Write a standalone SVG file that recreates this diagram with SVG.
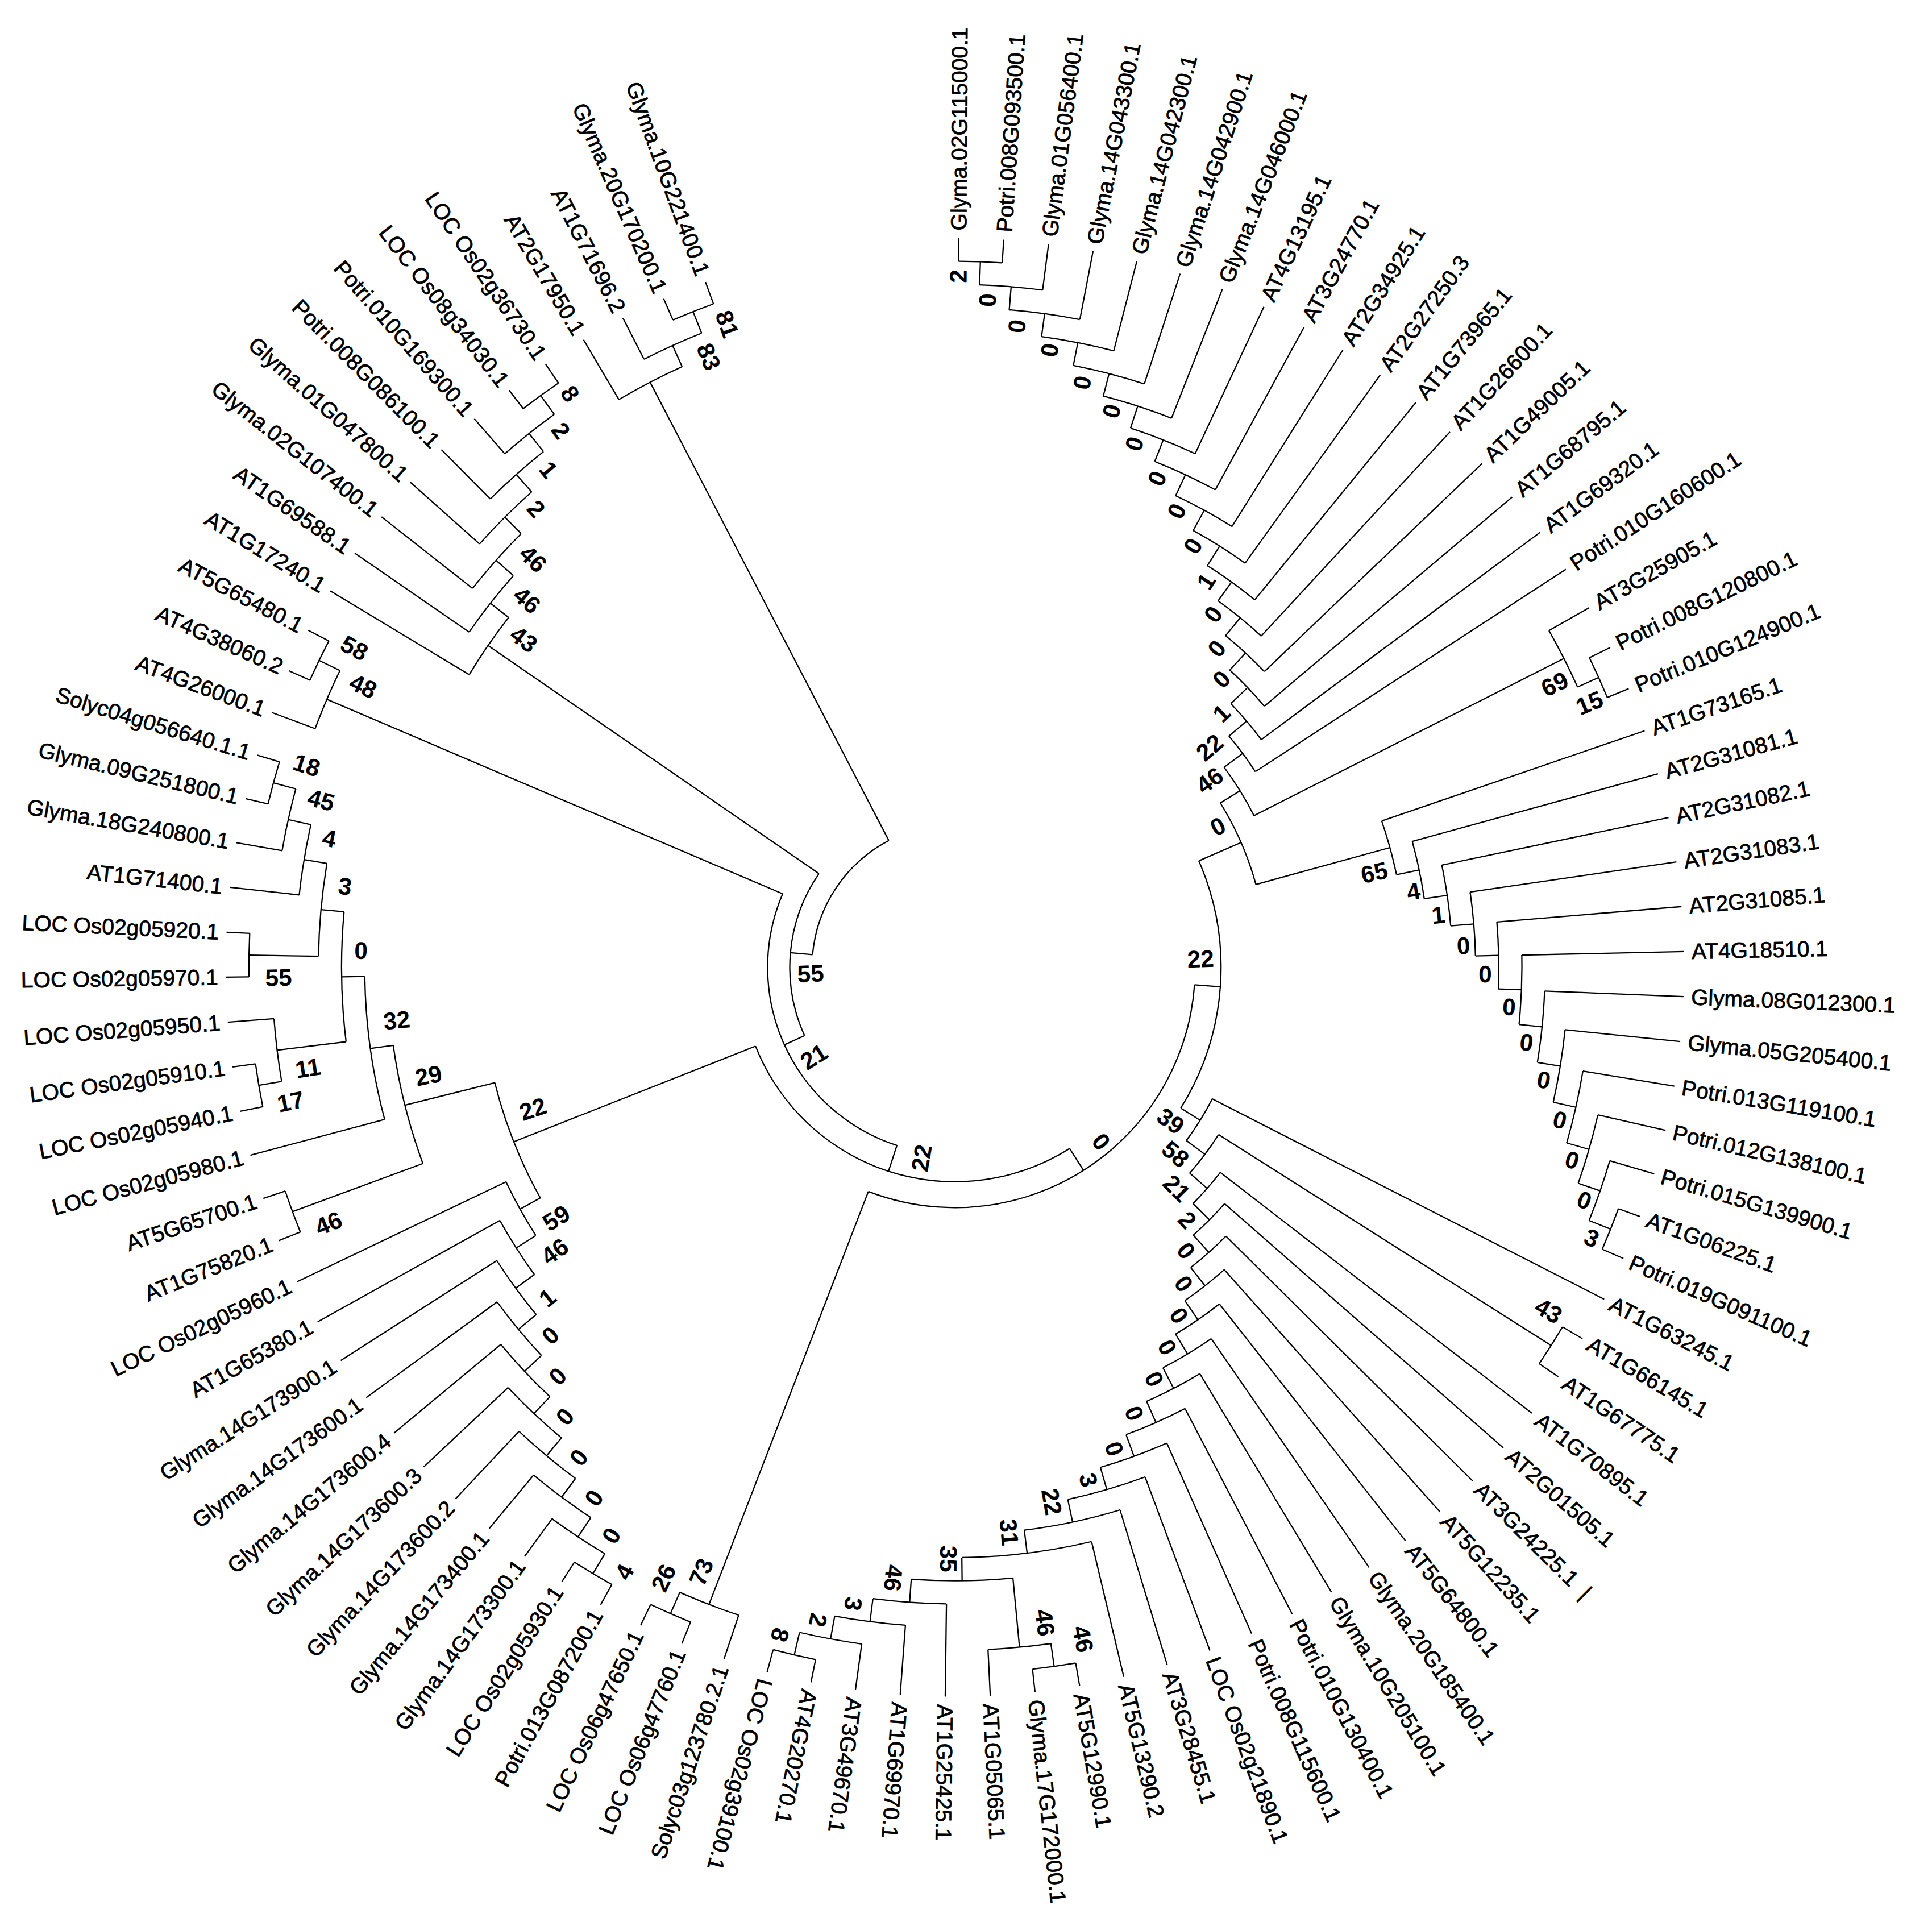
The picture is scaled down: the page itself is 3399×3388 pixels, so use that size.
<svg xmlns="http://www.w3.org/2000/svg" width="3399" height="3388" viewBox="0 0 3399 3388">
<style>
.br line,.br circle{stroke:#000;stroke-width:1.05;fill:none}
.lv text{font-family:"Liberation Sans",Arial,sans-serif;font-size:18px;fill:#000;stroke:#000;stroke-width:0.35;dominant-baseline:central}
.lv .L{text-anchor:end}
.bs text{font-family:"Liberation Sans",Arial,sans-serif;font-size:19.5px;font-weight:bold;fill:#000;text-anchor:middle;dominant-baseline:central}
</style>
<rect width="3399" height="3388" fill="#fff"/>
<g transform="scale(2.1677)">
<g id="connectors" class="br" transform="translate(775,785)">
<circle r="573" stroke-dasharray="35.4 4000" transform="rotate(-89.7)"/>
<circle r="554.2" stroke-dasharray="51.36 4000" transform="rotate(-87.93)"/>
<circle r="535.4" stroke-dasharray="57.89 4000" transform="rotate(-85.275)"/>
<circle r="516.6" stroke-dasharray="59.78 4000" transform="rotate(-82.18)"/>
<circle r="497.8" stroke-dasharray="59.56 4000" transform="rotate(-78.865)"/>
<circle r="479" stroke-dasharray="58.27 4000" transform="rotate(-75.44)"/>
<circle r="460.2" stroke-dasharray="56.42 4000" transform="rotate(-71.955)"/>
<circle r="441.4" stroke-dasharray="54.31 4000" transform="rotate(-68.44)"/>
<circle r="422.6" stroke-dasharray="52.11 4000" transform="rotate(-64.915)"/>
<circle r="403.8" stroke-dasharray="49.76 4000" transform="rotate(-61.38)"/>
<circle r="385" stroke-dasharray="47.51 4000" transform="rotate(-57.85)"/>
<circle r="366.2" stroke-dasharray="45.22 4000" transform="rotate(-54.315)"/>
<circle r="347.4" stroke-dasharray="42.93 4000" transform="rotate(-50.78)"/>
<circle r="328.6" stroke-dasharray="40.61 4000" transform="rotate(-47.24)"/>
<circle r="309.8" stroke-dasharray="38.28 4000" transform="rotate(-43.7)"/>
<circle r="291" stroke-dasharray="35.96 4000" transform="rotate(-40.16)"/>
<circle r="573" stroke-dasharray="35.4 4000" transform="rotate(-26.01)"/>
<circle r="554.2" stroke-dasharray="51.36 4000" transform="rotate(-29.55)"/>
<circle r="272.2" stroke-dasharray="46.2 4000" transform="rotate(-36.62)"/>
<circle r="573" stroke-dasharray="35.4 4000" transform="rotate(19.99)"/>
<circle r="554.2" stroke-dasharray="51.36 4000" transform="rotate(16.45)"/>
<circle r="535.4" stroke-dasharray="57.8 4000" transform="rotate(12.92)"/>
<circle r="516.6" stroke-dasharray="59.78 4000" transform="rotate(9.38)"/>
<circle r="497.8" stroke-dasharray="59.56 4000" transform="rotate(5.84)"/>
<circle r="479" stroke-dasharray="58.27 4000" transform="rotate(2.3)"/>
<circle r="460.2" stroke-dasharray="56.42 4000" transform="rotate(-1.24)"/>
<circle r="441.4" stroke-dasharray="54.31 4000" transform="rotate(-4.78)"/>
<circle r="422.6" stroke-dasharray="52.04 4000" transform="rotate(-8.31)"/>
<circle r="403.8" stroke-dasharray="49.83 4000" transform="rotate(-11.85)"/>
<circle r="385" stroke-dasharray="47.54 4000" transform="rotate(-15.39)"/>
<circle r="366.2" stroke-dasharray="45.25 4000" transform="rotate(-18.93)"/>
<circle r="253.4" stroke-dasharray="72.4 4000" transform="rotate(-31.76)"/>
<circle r="216" stroke-dasharray="209.27 4000" transform="rotate(-23.575)"/>
<circle r="573" stroke-dasharray="35.4 4000" transform="rotate(30.61)"/>
<circle r="234.6" stroke-dasharray="39.84 4000" transform="rotate(27.07)"/>
<circle r="253.4" stroke-dasharray="39.12 4000" transform="rotate(32.38)"/>
<circle r="272.2" stroke-dasharray="33.59 4000" transform="rotate(37.69)"/>
<circle r="291" stroke-dasharray="35.98 4000" transform="rotate(41.22)"/>
<circle r="309.8" stroke-dasharray="38.34 4000" transform="rotate(44.76)"/>
<circle r="328.6" stroke-dasharray="40.72 4000" transform="rotate(48.3)"/>
<circle r="347.4" stroke-dasharray="43.17 4000" transform="rotate(51.84)"/>
<circle r="366.2" stroke-dasharray="45.76 4000" transform="rotate(55.38)"/>
<circle r="385" stroke-dasharray="48.68 4000" transform="rotate(58.92)"/>
<circle r="403.8" stroke-dasharray="52.36 4000" transform="rotate(62.45)"/>
<circle r="422.6" stroke-dasharray="57.42 4000" transform="rotate(65.99)"/>
<circle r="441.4" stroke-dasharray="65.41 4000" transform="rotate(69.53)"/>
<circle r="460.2" stroke-dasharray="79.52 4000" transform="rotate(73.07)"/>
<circle r="479" stroke-dasharray="106.3 4000" transform="rotate(76.61)"/>
<circle r="497.8" stroke-dasharray="82.63 4000" transform="rotate(84.57)"/>
<circle r="554.2" stroke-dasharray="51.27 4000" transform="rotate(81.92)"/>
<circle r="573" stroke-dasharray="35.4 4000" transform="rotate(80.15)"/>
<circle r="516.6" stroke-dasharray="59.85 4000" transform="rotate(90.76)"/>
<circle r="535.4" stroke-dasharray="57.91 4000" transform="rotate(94.3)"/>
<circle r="554.2" stroke-dasharray="51.36 4000" transform="rotate(97.84)"/>
<circle r="573" stroke-dasharray="35.4 4000" transform="rotate(101.38)"/>
<circle r="573" stroke-dasharray="35.4 4000" transform="rotate(111.99)"/>
<circle r="554.2" stroke-dasharray="51.27 4000" transform="rotate(108.46)"/>
<circle r="195" stroke-dasharray="363.93 4000" transform="rotate(4.18)"/>
<circle r="573" stroke-dasharray="35.4 4000" transform="rotate(119.07)"/>
<circle r="554.2" stroke-dasharray="51.36 4000" transform="rotate(120.84)"/>
<circle r="535.4" stroke-dasharray="57.89 4000" transform="rotate(123.495)"/>
<circle r="516.6" stroke-dasharray="59.78 4000" transform="rotate(126.59)"/>
<circle r="497.8" stroke-dasharray="59.56 4000" transform="rotate(129.905)"/>
<circle r="479" stroke-dasharray="58.27 4000" transform="rotate(133.33)"/>
<circle r="460.2" stroke-dasharray="56.42 4000" transform="rotate(136.815)"/>
<circle r="441.4" stroke-dasharray="54.31 4000" transform="rotate(140.33)"/>
<circle r="422.6" stroke-dasharray="52.11 4000" transform="rotate(143.855)"/>
<circle r="403.8" stroke-dasharray="49.83 4000" transform="rotate(147.39)"/>
<circle r="573" stroke-dasharray="35.4 4000" transform="rotate(157.99)"/>
<circle r="573" stroke-dasharray="35.4 4000" transform="rotate(168.61)"/>
<circle r="554.2" stroke-dasharray="51.36 4000" transform="rotate(170.38)"/>
<circle r="573" stroke-dasharray="35.3 4000" transform="rotate(179.23)"/>
<circle r="573" stroke-dasharray="35.4 4000" transform="rotate(193.38)"/>
<circle r="554.2" stroke-dasharray="51.36 4000" transform="rotate(189.84)"/>
<circle r="535.4" stroke-dasharray="57.89 4000" transform="rotate(186.3)"/>
<circle r="516.6" stroke-dasharray="75.76 4000" transform="rotate(180.995)"/>
<circle r="497.8" stroke-dasharray="105.66 4000" transform="rotate(173.035)"/>
<circle r="479" stroke-dasharray="117.43 4000" transform="rotate(165.07)"/>
<circle r="460.2" stroke-dasharray="99.06 4000" transform="rotate(159.76)"/>
<circle r="385" stroke-dasharray="100.83 4000" transform="rotate(150.925)"/>
<circle r="174" stroke-dasharray="306.08 4000" transform="rotate(57.645)"/>
<circle r="573" stroke-dasharray="35.3 4000" transform="rotate(204)"/>
<circle r="554.2" stroke-dasharray="51.31 4000" transform="rotate(200.46)"/>
<circle r="152" stroke-dasharray="252.21 4000" transform="rotate(108.04)"/>
<circle r="573" stroke-dasharray="35.3 4000" transform="rotate(232.31)"/>
<circle r="554.2" stroke-dasharray="51.31 4000" transform="rotate(228.77)"/>
<circle r="535.4" stroke-dasharray="57.84 4000" transform="rotate(225.23)"/>
<circle r="516.6" stroke-dasharray="59.82 4000" transform="rotate(221.69)"/>
<circle r="497.8" stroke-dasharray="59.51 4000" transform="rotate(218.15)"/>
<circle r="479" stroke-dasharray="58.23 4000" transform="rotate(214.61)"/>
<circle r="460.2" stroke-dasharray="56.38 4000" transform="rotate(211.07)"/>
<circle r="134" stroke-dasharray="138 4000" transform="rotate(155.575)"/>
<circle r="573" stroke-dasharray="35.4 4000" transform="rotate(246.46)"/>
<circle r="554.2" stroke-dasharray="51.36 4000" transform="rotate(242.92)"/>
<circle r="535.4" stroke-dasharray="57.89 4000" transform="rotate(239.38)"/>
<circle r="116" stroke-dasharray="116.21 4000" transform="rotate(185.08)"/>
<line x1="573" x2="591.8" transform="rotate(-89.7)"/>
<line x1="573" x2="591.8" transform="rotate(-86.16)"/>
<line x1="554.2" x2="591.8" transform="rotate(-82.62)"/>
<line x1="535.4" x2="591.8" transform="rotate(-79.08)"/>
<line x1="516.6" x2="591.8" transform="rotate(-75.55)"/>
<line x1="497.8" x2="591.8" transform="rotate(-72.01)"/>
<line x1="479" x2="591.8" transform="rotate(-68.47)"/>
<line x1="460.2" x2="591.8" transform="rotate(-64.93)"/>
<line x1="441.4" x2="591.8" transform="rotate(-61.39)"/>
<line x1="422.6" x2="591.8" transform="rotate(-57.85)"/>
<line x1="403.8" x2="591.8" transform="rotate(-54.32)"/>
<line x1="385" x2="591.8" transform="rotate(-50.78)"/>
<line x1="366.2" x2="591.8" transform="rotate(-47.24)"/>
<line x1="347.4" x2="591.8" transform="rotate(-43.7)"/>
<line x1="328.6" x2="591.8" transform="rotate(-40.16)"/>
<line x1="309.8" x2="591.8" transform="rotate(-36.62)"/>
<line x1="291" x2="591.8" transform="rotate(-33.08)"/>
<line x1="554.2" x2="591.8" transform="rotate(-29.55)"/>
<line x1="573" x2="591.8" transform="rotate(-26.01)"/>
<line x1="573" x2="591.8" transform="rotate(-22.47)"/>
<line x1="366.2" x2="591.8" transform="rotate(-18.93)"/>
<line x1="385" x2="591.8" transform="rotate(-15.39)"/>
<line x1="403.8" x2="591.8" transform="rotate(-11.85)"/>
<line x1="422.6" x2="591.8" transform="rotate(-8.31)"/>
<line x1="441.4" x2="591.8" transform="rotate(-4.78)"/>
<line x1="460.2" x2="591.8" transform="rotate(-1.24)"/>
<line x1="479" x2="591.8" transform="rotate(2.3)"/>
<line x1="497.8" x2="591.8" transform="rotate(5.84)"/>
<line x1="516.6" x2="591.8" transform="rotate(9.38)"/>
<line x1="535.4" x2="591.8" transform="rotate(12.92)"/>
<line x1="554.2" x2="591.8" transform="rotate(16.45)"/>
<line x1="573" x2="591.8" transform="rotate(19.99)"/>
<line x1="573" x2="591.8" transform="rotate(23.53)"/>
<line x1="234.6" x2="591.8" transform="rotate(27.07)"/>
<line x1="573" x2="591.8" transform="rotate(30.61)"/>
<line x1="573" x2="591.8" transform="rotate(34.15)"/>
<line x1="272.2" x2="591.8" transform="rotate(37.69)"/>
<line x1="291" x2="591.8" transform="rotate(41.22)"/>
<line x1="309.8" x2="591.8" transform="rotate(44.76)"/>
<line x1="328.6" x2="591.8" transform="rotate(48.3)"/>
<line x1="347.4" x2="591.8" transform="rotate(51.84)"/>
<line x1="366.2" x2="591.8" transform="rotate(55.38)"/>
<line x1="385" x2="591.8" transform="rotate(58.92)"/>
<line x1="403.8" x2="591.8" transform="rotate(62.45)"/>
<line x1="422.6" x2="591.8" transform="rotate(65.99)"/>
<line x1="441.4" x2="591.8" transform="rotate(69.53)"/>
<line x1="460.2" x2="591.8" transform="rotate(73.07)"/>
<line x1="479" x2="591.8" transform="rotate(76.61)"/>
<line x1="573" x2="591.8" transform="rotate(80.15)"/>
<line x1="573" x2="591.8" transform="rotate(83.69)"/>
<line x1="554.2" x2="591.8" transform="rotate(87.22)"/>
<line x1="516.6" x2="591.8" transform="rotate(90.76)"/>
<line x1="535.4" x2="591.8" transform="rotate(94.3)"/>
<line x1="554.2" x2="591.8" transform="rotate(97.84)"/>
<line x1="573" x2="591.8" transform="rotate(101.38)"/>
<line x1="573" x2="591.8" transform="rotate(104.92)"/>
<line x1="554.2" x2="591.8" transform="rotate(108.46)"/>
<line x1="573" x2="591.8" transform="rotate(111.99)"/>
<line x1="573" x2="591.8" transform="rotate(115.53)"/>
<line x1="573" x2="591.8" transform="rotate(119.07)"/>
<line x1="573" x2="591.8" transform="rotate(122.61)"/>
<line x1="554.2" x2="591.8" transform="rotate(126.15)"/>
<line x1="535.4" x2="591.8" transform="rotate(129.69)"/>
<line x1="516.6" x2="591.8" transform="rotate(133.22)"/>
<line x1="497.8" x2="591.8" transform="rotate(136.76)"/>
<line x1="479" x2="591.8" transform="rotate(140.3)"/>
<line x1="460.2" x2="591.8" transform="rotate(143.84)"/>
<line x1="441.4" x2="591.8" transform="rotate(147.38)"/>
<line x1="422.6" x2="591.8" transform="rotate(150.92)"/>
<line x1="403.8" x2="591.8" transform="rotate(154.46)"/>
<line x1="573" x2="591.8" transform="rotate(157.99)"/>
<line x1="573" x2="591.8" transform="rotate(161.53)"/>
<line x1="479" x2="591.8" transform="rotate(165.07)"/>
<line x1="573" x2="591.8" transform="rotate(168.61)"/>
<line x1="573" x2="591.8" transform="rotate(172.15)"/>
<line x1="554.2" x2="591.8" transform="rotate(175.69)"/>
<line x1="573" x2="591.8" transform="rotate(179.23)"/>
<line x1="573" x2="591.8" transform="rotate(182.76)"/>
<line x1="535.4" x2="591.8" transform="rotate(186.3)"/>
<line x1="554.2" x2="591.8" transform="rotate(189.84)"/>
<line x1="573" x2="591.8" transform="rotate(193.38)"/>
<line x1="573" x2="591.8" transform="rotate(196.92)"/>
<line x1="554.2" x2="591.8" transform="rotate(200.46)"/>
<line x1="573" x2="591.8" transform="rotate(204)"/>
<line x1="573" x2="591.8" transform="rotate(207.53)"/>
<line x1="460.2" x2="591.8" transform="rotate(211.07)"/>
<line x1="479" x2="591.8" transform="rotate(214.61)"/>
<line x1="497.8" x2="591.8" transform="rotate(218.15)"/>
<line x1="516.6" x2="591.8" transform="rotate(221.69)"/>
<line x1="535.4" x2="591.8" transform="rotate(225.23)"/>
<line x1="554.2" x2="591.8" transform="rotate(228.77)"/>
<line x1="573" x2="591.8" transform="rotate(232.31)"/>
<line x1="573" x2="591.8" transform="rotate(235.84)"/>
<line x1="535.4" x2="591.8" transform="rotate(239.38)"/>
<line x1="554.2" x2="591.8" transform="rotate(242.92)"/>
<line x1="573" x2="591.8" transform="rotate(246.46)"/>
<line x1="573" x2="591.8" transform="rotate(250)"/>
<line x1="554.2" x2="573" transform="rotate(-87.93)"/>
<line x1="535.4" x2="554.2" transform="rotate(-85.275)"/>
<line x1="516.6" x2="535.4" transform="rotate(-82.18)"/>
<line x1="497.8" x2="516.6" transform="rotate(-78.865)"/>
<line x1="479" x2="497.8" transform="rotate(-75.44)"/>
<line x1="460.2" x2="479" transform="rotate(-71.955)"/>
<line x1="441.4" x2="460.2" transform="rotate(-68.44)"/>
<line x1="422.6" x2="441.4" transform="rotate(-64.915)"/>
<line x1="403.8" x2="422.6" transform="rotate(-61.38)"/>
<line x1="385" x2="403.8" transform="rotate(-57.85)"/>
<line x1="366.2" x2="385" transform="rotate(-54.315)"/>
<line x1="347.4" x2="366.2" transform="rotate(-50.78)"/>
<line x1="328.6" x2="347.4" transform="rotate(-47.24)"/>
<line x1="309.8" x2="328.6" transform="rotate(-43.7)"/>
<line x1="291" x2="309.8" transform="rotate(-40.16)"/>
<line x1="272.2" x2="291" transform="rotate(-36.62)"/>
<line x1="554.2" x2="573" transform="rotate(-24.24)"/>
<line x1="272.2" x2="554.2" transform="rotate(-26.895)"/>
<line x1="253.4" x2="272.2" transform="rotate(-31.76)"/>
<line x1="554.2" x2="573" transform="rotate(21.76)"/>
<line x1="535.4" x2="554.2" transform="rotate(19.105)"/>
<line x1="516.6" x2="535.4" transform="rotate(16.01)"/>
<line x1="497.8" x2="516.6" transform="rotate(12.695)"/>
<line x1="479" x2="497.8" transform="rotate(9.27)"/>
<line x1="460.2" x2="479" transform="rotate(5.785)"/>
<line x1="441.4" x2="460.2" transform="rotate(2.27)"/>
<line x1="422.6" x2="441.4" transform="rotate(-1.255)"/>
<line x1="403.8" x2="422.6" transform="rotate(-4.78)"/>
<line x1="385" x2="403.8" transform="rotate(-8.315)"/>
<line x1="366.2" x2="385" transform="rotate(-11.85)"/>
<line x1="253.4" x2="366.2" transform="rotate(-15.39)"/>
<line x1="216" x2="253.4" transform="rotate(-23.575)"/>
<line x1="253.4" x2="573" transform="rotate(32.38)"/>
<line x1="554.2" x2="573" transform="rotate(103.15)"/>
<line x1="535.4" x2="554.2" transform="rotate(100.495)"/>
<line x1="516.6" x2="535.4" transform="rotate(97.3975)"/>
<line x1="497.8" x2="516.6" transform="rotate(94.08)"/>
<line x1="554.2" x2="573" transform="rotate(81.92)"/>
<line x1="497.8" x2="554.2" transform="rotate(84.57)"/>
<line x1="479" x2="497.8" transform="rotate(89.325)"/>
<line x1="460.2" x2="479" transform="rotate(82.97)"/>
<line x1="441.4" x2="460.2" transform="rotate(78.02)"/>
<line x1="422.6" x2="441.4" transform="rotate(73.775)"/>
<line x1="403.8" x2="422.6" transform="rotate(69.88)"/>
<line x1="385" x2="403.8" transform="rotate(66.165)"/>
<line x1="366.2" x2="385" transform="rotate(62.54)"/>
<line x1="347.4" x2="366.2" transform="rotate(58.96)"/>
<line x1="328.6" x2="347.4" transform="rotate(55.4)"/>
<line x1="309.8" x2="328.6" transform="rotate(51.85)"/>
<line x1="291" x2="309.8" transform="rotate(48.305)"/>
<line x1="272.2" x2="291" transform="rotate(44.76)"/>
<line x1="253.4" x2="272.2" transform="rotate(41.225)"/>
<line x1="234.6" x2="253.4" transform="rotate(36.8)"/>
<line x1="216" x2="234.6" transform="rotate(31.935)"/>
<line x1="195" x2="216" transform="rotate(4.18)"/>
<line x1="554.2" x2="573" transform="rotate(113.76)"/>
<line x1="195" x2="554.2" transform="rotate(111.11)"/>
<line x1="174" x2="195" transform="rotate(57.645)"/>
<line x1="554.2" x2="573" transform="rotate(120.84)"/>
<line x1="535.4" x2="554.2" transform="rotate(123.495)"/>
<line x1="516.6" x2="535.4" transform="rotate(126.59)"/>
<line x1="497.8" x2="516.6" transform="rotate(129.905)"/>
<line x1="479" x2="497.8" transform="rotate(133.33)"/>
<line x1="460.2" x2="479" transform="rotate(136.815)"/>
<line x1="441.4" x2="460.2" transform="rotate(140.33)"/>
<line x1="422.6" x2="441.4" transform="rotate(143.855)"/>
<line x1="403.8" x2="422.6" transform="rotate(147.39)"/>
<line x1="385" x2="403.8" transform="rotate(150.925)"/>
<line x1="460.2" x2="573" transform="rotate(159.76)"/>
<line x1="554.2" x2="573" transform="rotate(170.38)"/>
<line x1="497.8" x2="554.2" transform="rotate(173.035)"/>
<line x1="516.6" x2="573" transform="rotate(180.995)"/>
<line x1="554.2" x2="573" transform="rotate(195.15)"/>
<line x1="535.4" x2="554.2" transform="rotate(192.495)"/>
<line x1="516.6" x2="535.4" transform="rotate(189.3975)"/>
<line x1="497.8" x2="516.6" transform="rotate(185.196)"/>
<line x1="479" x2="497.8" transform="rotate(179.116)"/>
<line x1="460.2" x2="479" transform="rotate(172.093)"/>
<line x1="385" x2="460.2" transform="rotate(165.93)"/>
<line x1="174" x2="385" transform="rotate(158.43)"/>
<line x1="152" x2="174" transform="rotate(108.04)"/>
<line x1="554.2" x2="573" transform="rotate(205.765)"/>
<line x1="152" x2="554.2" transform="rotate(203.11)"/>
<line x1="134" x2="152" transform="rotate(155.575)"/>
<line x1="554.2" x2="573" transform="rotate(234.075)"/>
<line x1="535.4" x2="554.2" transform="rotate(231.42)"/>
<line x1="516.6" x2="535.4" transform="rotate(228.325)"/>
<line x1="497.8" x2="516.6" transform="rotate(225)"/>
<line x1="479" x2="497.8" transform="rotate(221.575)"/>
<line x1="460.2" x2="479" transform="rotate(218.09)"/>
<line x1="134" x2="460.2" transform="rotate(214.58)"/>
<line x1="116" x2="134" transform="rotate(185.08)"/>
<line x1="554.2" x2="573" transform="rotate(248.23)"/>
<line x1="535.4" x2="554.2" transform="rotate(245.575)"/>
<line x1="116" x2="535.4" transform="rotate(242.48)"/>
</g>
<g id="leaves" class="lv" transform="translate(775,785)">
<g id="leaf01"><text transform="rotate(-89.7) translate(598,0)">Glyma.02G115000.1</text></g>
<g id="leaf02"><text transform="rotate(-86.16) translate(598,0)">Potri.008G093500.1</text></g>
<g id="leaf03"><text transform="rotate(-82.62) translate(598,0)">Glyma.01G056400.1</text></g>
<g id="leaf04"><text transform="rotate(-79.08) translate(598,0)">Glyma.14G043300.1</text></g>
<g id="leaf05"><text transform="rotate(-75.55) translate(598,0)">Glyma.14G042300.1</text></g>
<g id="leaf06"><text transform="rotate(-72.01) translate(598,0)">Glyma.14G042900.1</text></g>
<g id="leaf07"><text transform="rotate(-68.47) translate(598,0)">Glyma.14G046000.1</text></g>
<g id="leaf08"><text transform="rotate(-64.93) translate(598,0)">AT4G13195.1</text></g>
<g id="leaf09"><text transform="rotate(-61.39) translate(598,0)">AT3G24770.1</text></g>
<g id="leaf10"><text transform="rotate(-57.85) translate(598,0)">AT2G34925.1</text></g>
<g id="leaf11"><text transform="rotate(-54.32) translate(598,0)">AT2G27250.3</text></g>
<g id="leaf12"><text transform="rotate(-50.78) translate(598,0)">AT1G73965.1</text></g>
<g id="leaf13"><text transform="rotate(-47.24) translate(598,0)">AT1G26600.1</text></g>
<g id="leaf14"><text transform="rotate(-43.7) translate(598,0)">AT1G49005.1</text></g>
<g id="leaf15"><text transform="rotate(-40.16) translate(598,0)">AT1G68795.1</text></g>
<g id="leaf16"><text transform="rotate(-36.62) translate(598,0)">AT1G69320.1</text></g>
<g id="leaf17"><text transform="rotate(-33.08) translate(598,0)">Potri.010G160600.1</text></g>
<g id="leaf18"><text transform="rotate(-29.55) translate(598,0)">AT3G25905.1</text></g>
<g id="leaf19"><text transform="rotate(-26.01) translate(598,0)">Potri.008G120800.1</text></g>
<g id="leaf20"><text transform="rotate(-22.47) translate(598,0)">Potri.010G124900.1</text></g>
<g id="leaf21"><text transform="rotate(-18.93) translate(598,0)">AT1G73165.1</text></g>
<g id="leaf22"><text transform="rotate(-15.39) translate(598,0)">AT2G31081.1</text></g>
<g id="leaf23"><text transform="rotate(-11.85) translate(598,0)">AT2G31082.1</text></g>
<g id="leaf24"><text transform="rotate(-8.31) translate(598,0)">AT2G31083.1</text></g>
<g id="leaf25"><text transform="rotate(-4.78) translate(598,0)">AT2G31085.1</text></g>
<g id="leaf26"><text transform="rotate(-1.24) translate(598,0)">AT4G18510.1</text></g>
<g id="leaf27"><text transform="rotate(2.3) translate(598,0)">Glyma.08G012300.1</text></g>
<g id="leaf28"><text transform="rotate(5.84) translate(598,0)">Glyma.05G205400.1</text></g>
<g id="leaf29"><text transform="rotate(9.38) translate(598,0)">Potri.013G119100.1</text></g>
<g id="leaf30"><text transform="rotate(12.92) translate(598,0)">Potri.012G138100.1</text></g>
<g id="leaf31"><text transform="rotate(16.45) translate(598,0)">Potri.015G139900.1</text></g>
<g id="leaf32"><text transform="rotate(19.99) translate(598,0)">AT1G06225.1</text></g>
<g id="leaf33"><text transform="rotate(23.53) translate(598,0)">Potri.019G091100.1</text></g>
<g id="leaf34"><text transform="rotate(27.07) translate(598,0)">AT1G63245.1</text></g>
<g id="leaf35"><text transform="rotate(30.61) translate(598,0)">AT1G66145.1</text></g>
<g id="leaf36"><text transform="rotate(34.15) translate(598,0)">AT1G67775.1</text></g>
<g id="leaf37"><text transform="rotate(37.69) translate(598,0)">AT1G70895.1</text></g>
<g id="leaf38"><text transform="rotate(41.22) translate(598,0)">AT2G01505.1</text></g>
<g id="leaf39"><text transform="rotate(44.76) translate(598,0)" xml:space="preserve">AT3G24225.1  |</text></g>
<g id="leaf40"><text transform="rotate(48.3) translate(598,0)">AT5G12235.1</text></g>
<g id="leaf41"><text transform="rotate(51.84) translate(598,0)">AT5G64800.1</text></g>
<g id="leaf42"><text transform="rotate(55.38) translate(598,0)">Glyma.20G185400.1</text></g>
<g id="leaf43"><text transform="rotate(58.92) translate(598,0)">Glyma.10G205100.1</text></g>
<g id="leaf44"><text transform="rotate(62.45) translate(598,0)">Potri.010G130400.1</text></g>
<g id="leaf45"><text transform="rotate(65.99) translate(598,0)">Potri.008G115600.1</text></g>
<g id="leaf46"><text transform="rotate(69.53) translate(598,0)">LOC Os02g21890.1</text></g>
<g id="leaf47"><text transform="rotate(73.07) translate(598,0)">AT3G28455.1</text></g>
<g id="leaf48"><text transform="rotate(76.61) translate(598,0)">AT5G13290.2</text></g>
<g id="leaf49"><text transform="rotate(80.15) translate(598,0)">AT5G12990.1</text></g>
<g id="leaf50"><text transform="rotate(83.69) translate(598,0)">Glyma.17G172000.1</text></g>
<g id="leaf51"><text transform="rotate(87.22) translate(598,0)">AT1G05065.1</text></g>
<g id="leaf52"><text transform="rotate(90.76) translate(598,0)">AT1G25425.1</text></g>
<g id="leaf53"><text transform="rotate(94.3) translate(598,0)">AT1G69970.1</text></g>
<g id="leaf54"><text transform="rotate(97.84) translate(598,0)">AT3G49670.1</text></g>
<g id="leaf55"><text transform="rotate(101.38) translate(598,0)">AT4G20270.1</text></g>
<g id="leaf56"><text transform="rotate(104.92) translate(598,0)">LOC Os02g39100.1</text></g>
<g id="leaf57"><text class="L" transform="rotate(108.46) translate(598,0) rotate(180)">Solyc03g123780.2.1</text></g>
<g id="leaf58"><text class="L" transform="rotate(111.99) translate(598,0) rotate(180)">LOC Os06g47760.1</text></g>
<g id="leaf59"><text class="L" transform="rotate(115.53) translate(598,0) rotate(180)">LOC Os06g47650.1</text></g>
<g id="leaf60"><text class="L" transform="rotate(119.07) translate(598,0) rotate(180)">Potri.013G087200.1</text></g>
<g id="leaf61"><text class="L" transform="rotate(122.61) translate(598,0) rotate(180)">LOC Os02g05930.1</text></g>
<g id="leaf62"><text class="L" transform="rotate(126.15) translate(598,0) rotate(180)">Glyma.14G173300.1</text></g>
<g id="leaf63"><text class="L" transform="rotate(129.69) translate(598,0) rotate(180)">Glyma.14G173400.1</text></g>
<g id="leaf64"><text class="L" transform="rotate(133.22) translate(598,0) rotate(180)">Glyma.14G173600.2</text></g>
<g id="leaf65"><text class="L" transform="rotate(136.76) translate(598,0) rotate(180)">Glyma.14G173600.3</text></g>
<g id="leaf66"><text class="L" transform="rotate(140.3) translate(598,0) rotate(180)">Glyma.14G173600.4</text></g>
<g id="leaf67"><text class="L" transform="rotate(143.84) translate(598,0) rotate(180)">Glyma.14G173600.1</text></g>
<g id="leaf68"><text class="L" transform="rotate(147.38) translate(598,0) rotate(180)">Glyma.14G173900.1</text></g>
<g id="leaf69"><text class="L" transform="rotate(150.92) translate(598,0) rotate(180)">AT1G65380.1</text></g>
<g id="leaf70"><text class="L" transform="rotate(154.46) translate(598,0) rotate(180)">LOC Os02g05960.1</text></g>
<g id="leaf71"><text class="L" transform="rotate(157.99) translate(598,0) rotate(180)">AT1G75820.1</text></g>
<g id="leaf72"><text class="L" transform="rotate(161.53) translate(598,0) rotate(180)">AT5G65700.1</text></g>
<g id="leaf73"><text class="L" transform="rotate(165.07) translate(598,0) rotate(180)">LOC Os02g05980.1</text></g>
<g id="leaf74"><text class="L" transform="rotate(168.61) translate(598,0) rotate(180)">LOC Os02g05940.1</text></g>
<g id="leaf75"><text class="L" transform="rotate(172.15) translate(598,0) rotate(180)">LOC Os02g05910.1</text></g>
<g id="leaf76"><text class="L" transform="rotate(175.69) translate(598,0) rotate(180)">LOC Os02g05950.1</text></g>
<g id="leaf77"><text class="L" transform="rotate(179.23) translate(598,0) rotate(180)">LOC Os02g05970.1</text></g>
<g id="leaf78"><text class="L" transform="rotate(182.76) translate(598,0) rotate(180)">LOC Os02g05920.1</text></g>
<g id="leaf79"><text class="L" transform="rotate(186.3) translate(598,0) rotate(180)">AT1G71400.1</text></g>
<g id="leaf80"><text class="L" transform="rotate(189.84) translate(598,0) rotate(180)">Glyma.18G240800.1</text></g>
<g id="leaf81"><text class="L" transform="rotate(193.38) translate(598,0) rotate(180)">Glyma.09G251800.1</text></g>
<g id="leaf82"><text class="L" transform="rotate(196.92) translate(598,0) rotate(180)">Solyc04g056640.1.1</text></g>
<g id="leaf83"><text class="L" transform="rotate(200.46) translate(598,0) rotate(180)">AT4G26000.1</text></g>
<g id="leaf84"><text class="L" transform="rotate(204) translate(598,0) rotate(180)">AT4G38060.2</text></g>
<g id="leaf85"><text class="L" transform="rotate(207.53) translate(598,0) rotate(180)">AT5G65480.1</text></g>
<g id="leaf86"><text class="L" transform="rotate(211.07) translate(598,0) rotate(180)">AT1G17240.1</text></g>
<g id="leaf87"><text class="L" transform="rotate(214.61) translate(598,0) rotate(180)">AT1G69588.1</text></g>
<g id="leaf88"><text class="L" transform="rotate(218.15) translate(598,0) rotate(180)">Glyma.02G107400.1</text></g>
<g id="leaf89"><text class="L" transform="rotate(221.69) translate(598,0) rotate(180)">Glyma.01G047800.1</text></g>
<g id="leaf90"><text class="L" transform="rotate(225.23) translate(598,0) rotate(180)">Potri.008G086100.1</text></g>
<g id="leaf91"><text class="L" transform="rotate(228.77) translate(598,0) rotate(180)">Potri.010G169300.1</text></g>
<g id="leaf92"><text class="L" transform="rotate(232.31) translate(598,0) rotate(180)">LOC Os08g34030.1</text></g>
<g id="leaf93"><text class="L" transform="rotate(235.84) translate(598,0) rotate(180)">LOC Os02g36730.1</text></g>
<g id="leaf94"><text class="L" transform="rotate(239.38) translate(598,0) rotate(180)">AT2G17950.1</text></g>
<g id="leaf95"><text class="L" transform="rotate(242.92) translate(598,0) rotate(180)">AT1G71696.2</text></g>
<g id="leaf96"><text class="L" transform="rotate(246.46) translate(598,0) rotate(180)">Glyma.20G170200.1</text></g>
<g id="leaf97"><text class="L" transform="rotate(250) translate(598,0) rotate(180)">Glyma.10G221400.1</text></g>
</g>
<g id="support" class="bs">
<text transform="translate(777.8,224.2) rotate(-89.7)">2</text>
<text transform="translate(801.6,243.6) rotate(-87.2)">0</text>
<text transform="translate(825.4,264.8) rotate(-84.5)">0</text>
<text transform="translate(851.9,284.2) rotate(-81.3)">0</text>
<text transform="translate(878.4,310.6) rotate(-77.7)">0</text>
<text transform="translate(902.2,333.6) rotate(-74.3)">0</text>
<text transform="translate(920.7,360.1) rotate(-71.1)">0</text>
<text transform="translate(939.2,388.3) rotate(-67.5)">0</text>
<text transform="translate(955.1,414.8) rotate(-64.1)">0</text>
<text transform="translate(968.3,443) rotate(-60.5)">0</text>
<text transform="translate(978.9,471.8) rotate(-56.9)">1</text>
<text transform="translate(984.7,498.6) rotate(-53.8)">0</text>
<text transform="translate(987.6,526.3) rotate(-50.6)">0</text>
<text transform="translate(991.4,551.2) rotate(-47.2)">0</text>
<text transform="translate(991.4,578.9) rotate(-43.6)">1</text>
<text transform="translate(981.8,606.6) rotate(-40.8)">22</text>
<text transform="translate(981.8,633.4) rotate(-36.2)">46</text>
<text transform="translate(988.5,670.7) rotate(-28.2)">0</text>
<text transform="translate(1261.8,555.2) rotate(-25.3)">69</text>
<text transform="translate(1290,570.5) rotate(-22.6)">15</text>
<text transform="translate(1115.4,708.2) rotate(-12.7)">65</text>
<text transform="translate(1147.2,723.5) rotate(-9.4)">4</text>
<text transform="translate(1167.3,742.6) rotate(-6.2)">1</text>
<text transform="translate(1187.7,767.5) rotate(-2.4)">0</text>
<text transform="translate(1205.4,790.5) rotate(0.7)">0</text>
<text transform="translate(1224.8,817.2) rotate(4.1)">0</text>
<text transform="translate(1238.9,846) rotate(7.5)">0</text>
<text transform="translate(1253,876.5) rotate(10.8)">0</text>
<text transform="translate(1266,909) rotate(14.2)">0</text>
<text transform="translate(1275.9,941.5) rotate(17.4)">0</text>
<text transform="translate(1285.8,974.1) rotate(20.3)">0</text>
<text transform="translate(1291.8,1004.7) rotate(23)">3</text>
<text transform="translate(1256.8,1063.8) rotate(30.1)">43</text>
<text transform="translate(950.1,909.8) rotate(35.5)">39</text>
<text transform="translate(954,936.6) rotate(40.3)">58</text>
<text transform="translate(954.9,964.3) rotate(44.9)">21</text>
<text transform="translate(963.5,990.1) rotate(47.4)">2</text>
<text transform="translate(962.6,1015) rotate(50.8)">0</text>
<text transform="translate(960.6,1041.8) rotate(54.1)">0</text>
<text transform="translate(956.8,1067.6) rotate(57.2)">0</text>
<text transform="translate(947.3,1093.4) rotate(60.8)">0</text>
<text transform="translate(936.7,1119.2) rotate(64.2)">0</text>
<text transform="translate(920.5,1147) rotate(68.1)">0</text>
<text transform="translate(904.3,1175.7) rotate(71.7)">0</text>
<text transform="translate(883.3,1201) rotate(75.4)">3</text>
<text transform="translate(853.5,1218.7) rotate(79.7)">22</text>
<text transform="translate(818.9,1243.4) rotate(84.5)">31</text>
<text transform="translate(769.7,1265) rotate(90.6)">35</text>
<text transform="translate(848,1316.9) rotate(82.2)">46</text>
<text transform="translate(878.9,1330.1) rotate(79.2)">46</text>
<text transform="translate(724.9,1280.5) rotate(95.8)">46</text>
<text transform="translate(692.4,1301.4) rotate(99.1)">3</text>
<text transform="translate(663.8,1314.7) rotate(101.9)">2</text>
<text transform="translate(632.9,1326.8) rotate(104.7)">8</text>
<text transform="translate(893.6,926.5) rotate(50)">0</text>
<text transform="translate(974.4,778.2) rotate(-2)">22</text>
<text transform="translate(569.2,1275.7) rotate(-67.2)">73</text>
<text transform="translate(538.6,1280.4) rotate(-64.5)">26</text>
<text transform="translate(506.8,1275.7) rotate(-61.3)">4</text>
<text transform="translate(496.2,1246.2) rotate(-58.8)">0</text>
<text transform="translate(482.1,1215.6) rotate(-55.8)">0</text>
<text transform="translate(469.8,1182.7) rotate(-52.5)">0</text>
<text transform="translate(458.5,1149.7) rotate(-49)">0</text>
<text transform="translate(452.7,1116.8) rotate(-45.8)">0</text>
<text transform="translate(446.8,1083.8) rotate(-42.3)">0</text>
<text transform="translate(444.4,1053.2) rotate(-39.1)">1</text>
<text transform="translate(450.3,1015.6) rotate(-35.4)">46</text>
<text transform="translate(451.5,988.5) rotate(-32.2)">59</text>
<text transform="translate(432.5,900) rotate(-18.6)">22</text>
<text transform="translate(347.8,872.9) rotate(-11.6)">29</text>
<text transform="translate(266.6,992.9) rotate(-22.2)">46</text>
<text transform="translate(322,828) rotate(-5.4)">32</text>
<text transform="translate(293,771.5) rotate(1.6)">0</text>
<text transform="translate(250,866.9) rotate(-8.9)">11</text>
<text transform="translate(235.8,894.1) rotate(-11.4)">17</text>
<text transform="translate(226,793.4) rotate(-0.9)">55</text>
<text transform="translate(280,719.3) rotate(7.6)">3</text>
<text transform="translate(267.3,680.4) rotate(11.6)">4</text>
<text transform="translate(260.6,649.4) rotate(14.8)">45</text>
<text transform="translate(248.9,621.1) rotate(17.3)">18</text>
<text transform="translate(294.8,556.9) rotate(25.4)">48</text>
<text transform="translate(287.6,526) rotate(28)">58</text>
<text transform="translate(425.1,518.9) rotate(37.3)">43</text>
<text transform="translate(427.6,487.1) rotate(40.6)">46</text>
<text transform="translate(432.6,453.6) rotate(44.1)">46</text>
<text transform="translate(435.1,413) rotate(47.6)">2</text>
<text transform="translate(445.1,381.2) rotate(50.8)">1</text>
<text transform="translate(455.1,349.5) rotate(53.7)">2</text>
<text transform="translate(462.6,319.5) rotate(56.1)">8</text>
<text transform="translate(575.1,289.5) rotate(68)">83</text>
<text transform="translate(590.1,263) rotate(70.5)">81</text>
<text transform="translate(657.9,790.1) rotate(-2.5)">55</text>
<text transform="translate(660.6,857.6) rotate(-32.4)">21</text>
<text transform="translate(748,939.7) rotate(-80.1)">22</text>
</g>
</g>
</svg>
